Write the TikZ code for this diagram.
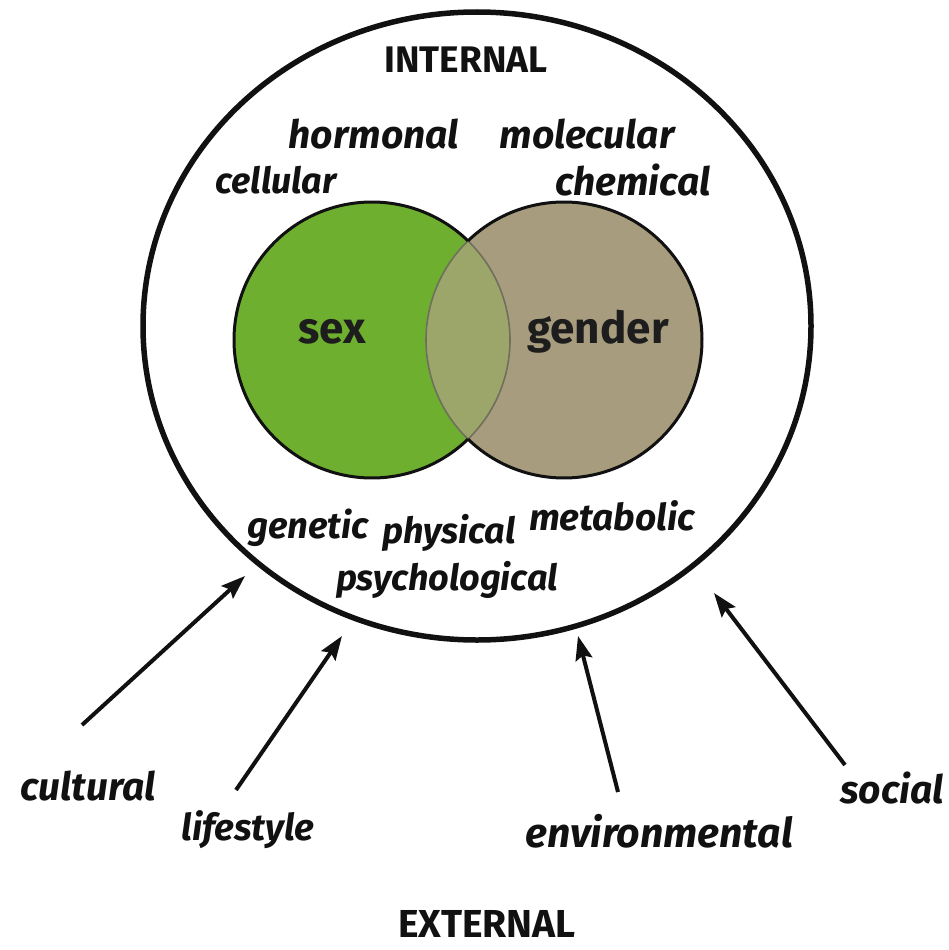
\documentclass[tikz,border=0pt]{standalone}
\usepackage{fontspec}
\setmainfont{Fira Sans}
\usetikzlibrary{arrows.meta}
\definecolor{sexgreen}{HTML}{6FAF2F}
\definecolor{gendertan}{HTML}{A89C7E}
\definecolor{overlapc}{HTML}{9CA66B}
\definecolor{overlapline}{HTML}{6E705C}
\definecolor{ink}{HTML}{111111}
\begin{document}
\begin{tikzpicture}[x=1pt,y=-1pt,
  lab/.style={font=\fontsize{#1}{42}\selectfont\bfseries\itshape, anchor=base, inner sep=0pt, text=ink},
  lab/.default=39,
  head/.style={font=\fontsize{#1}{40}\selectfont\bfseries, anchor=base, inner sep=0pt, text=ink},
  head/.default=37,
  vennlab/.style={font=\fontsize{44}{48}\selectfont\bfseries, anchor=base, inner sep=0pt, text=ink!95},
  infl/.style={line width=4pt, draw=ink, -{Stealth[length=24pt,width=17pt,inset=4pt]}},
  outline/.style={line width=3pt, draw=ink},
  innerline/.style={line width=1.6pt, draw=overlapline},
]
\useasboundingbox (0,0) rectangle (949,950);
% outer boundary
\coordinate (outerc) at (477,326);
\draw[line width=5.5pt, draw=ink] (outerc) ellipse [x radius=334, y radius=314];
% Venn circles
\coordinate (sexc) at (372,340);
\coordinate (genc) at (564,340);
\node[circle, fill=sexgreen, minimum size=276pt, inner sep=0pt] (sexcircle) at (sexc) {};
\node[circle, fill=gendertan, minimum size=276pt, inner sep=0pt] (gendercircle) at (genc) {};
\begin{scope}
  \clip (sexc) circle[radius=138];
  \fill[overlapc] (genc) circle[radius=138];
\end{scope}
\draw[innerline] (sexc) ++(-45.9:138) arc[start angle=-45.9, end angle=45.9, radius=138];
\draw[innerline] (genc) ++(134.1:138) arc[start angle=134.1, end angle=225.9, radius=138];
\draw[outline] (sexc) ++(45.9:138) arc[start angle=45.9, end angle=314.1, radius=138];
\draw[outline] (genc) ++(-134.1:138) arc[start angle=-134.1, end angle=134.1, radius=138];
\node[vennlab] (sex) at (332,343) {sex};
\node[vennlab] (gender) at (598,343) {gender};
% headings
\node[head] (internal) at (466,73) {INTERNAL};
\node[head=39] (external) at (487,937) {EXTERNAL};
% internal labels
\node[lab] (hormonal) at (374,148) {hormonal};
\node[lab] (molecular) at (587,148) {molecular};
\node[lab=36] (cellular) at (276,193) {cellular};
\node[lab] (chemical) at (633,195) {chemical};
\node[lab=36.5] (genetic) at (308,538) {genetic};
\node[lab=36] (physical) at (449,543) {physical};
\node[lab=37] (metabolic) at (612,530) {metabolic};
\node[lab=36] (psychological) at (447,590) {psychological};
% external labels
\node[lab] (cultural) at (88,800) {cultural};
\node[lab=37] (lifestyle) at (248,840) {lifestyle};
\node[lab=41] (environmental) at (659,847) {environmental};
\node[lab] (social) at (892,803) {social};
% arrows
\coordinate (t1) at (82,725);  \coordinate (h1) at (245,576);
\coordinate (t2) at (236,790); \coordinate (h2) at (342,636);
\coordinate (t3) at (618,792); \coordinate (h3) at (578,636);
\coordinate (t4) at (845,765); \coordinate (h4) at (714,593);
\draw[infl] (t1) -- (h1);
\draw[infl] (t2) -- (h2);
\draw[infl] (t3) -- (h3);
\draw[infl] (t4) -- (h4);
\end{tikzpicture}
\end{document}
